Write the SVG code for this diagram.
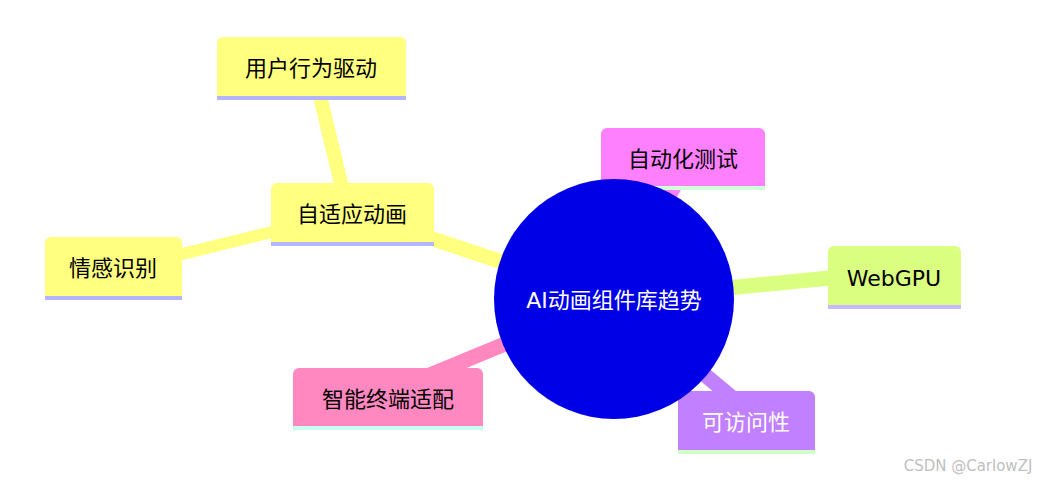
<svg xmlns="http://www.w3.org/2000/svg" width="1051" height="481" viewBox="0 0 1051 481">
<style>
text{font-family:"DejaVu Sans","Noto Sans CJK SC",sans-serif;font-size:22px;text-anchor:middle;dominant-baseline:central;fill:#000}
.e{fill:none;stroke-linecap:butt}
</style>
<rect width="1051" height="481" fill="#fff"/>
<g id="connectors">
<line class="e" x1="614" y1="299" x2="683" y2="170" stroke="#ff80ff" stroke-width="15"/>
<line class="e" x1="614" y1="299" x2="840" y2="277" stroke="#daff80" stroke-width="15"/>
<line class="e" x1="614" y1="299" x2="735" y2="400" stroke="#c080ff" stroke-width="15"/>
<line class="e" x1="614" y1="299" x2="430" y2="375" stroke="#ff88c0" stroke-width="15"/>
<line class="e" x1="614" y1="299" x2="400" y2="228" stroke="#ffff80" stroke-width="15"/>
<line class="e" x1="345" y1="200" x2="320" y2="96" stroke="#ffff80" stroke-width="14"/>
<line class="e" x1="300" y1="225" x2="170" y2="257" stroke="#ffff80" stroke-width="12"/>
</g>
<g id="n-auto"><path d="M601,188V134a6,6 0 0 1 6,-6H759a6,6 0 0 1 6,6V188Z" fill="#ff80ff"/><line x1="601" y1="188" x2="765" y2="188" stroke="#d0ffd8" stroke-width="4"/><text x="683" y="159">自动化测试</text></g>
<g id="n-webgpu"><path d="M828,307V252a6,6 0 0 1 6,-6H955a6,6 0 0 1 6,6V307Z" fill="#daff80"/><line x1="828" y1="307" x2="961" y2="307" stroke="#c8b8ff" stroke-width="4"/><text x="894" y="278">WebGPU</text></g>
<g id="n-a11y"><path d="M678,452V397a6,6 0 0 1 6,-6H809a6,6 0 0 1 6,6V452Z" fill="#c080ff"/><line x1="678" y1="452" x2="815" y2="452" stroke="#d0ffc8" stroke-width="4"/><text x="746" y="422" style="fill:#fff">可访问性</text></g>
<g id="n-term"><path d="M293,428V374a6,6 0 0 1 6,-6H477a6,6 0 0 1 6,6V428Z" fill="#ff88c0"/><line x1="293" y1="428" x2="483" y2="428" stroke="#c8fff0" stroke-width="4"/><text x="388" y="399">智能终端适配</text></g>
<g id="n-adapt"><path d="M271,244V189a6,6 0 0 1 6,-6H428a6,6 0 0 1 6,6V244Z" fill="#ffff80"/><line x1="271" y1="244" x2="434" y2="244" stroke="#b4b4ff" stroke-width="4"/><text x="352" y="214">自适应动画</text></g>
<g id="n-user"><path d="M217,98V43a6,6 0 0 1 6,-6H400a6,6 0 0 1 6,6V98Z" fill="#ffff80"/><line x1="217" y1="98" x2="406" y2="98" stroke="#b4b4ff" stroke-width="4"/><text x="311" y="68">用户行为驱动</text></g>
<g id="n-emo"><path d="M45,298V243a6,6 0 0 1 6,-6H176a6,6 0 0 1 6,6V298Z" fill="#ffff80"/><line x1="45" y1="298" x2="182" y2="298" stroke="#b4b4ff" stroke-width="4"/><text x="113" y="268">情感识别</text></g>
<g id="n-root"><ellipse cx="614" cy="299" rx="120" ry="120" fill="#0000e6"/><text x="614" y="300" style="fill:#fff">AI动画组件库趋势</text></g>
<text x="968" y="466" style="font-size:15px;fill:#c0c0c0">CSDN @CarlowZJ</text>
</svg>
